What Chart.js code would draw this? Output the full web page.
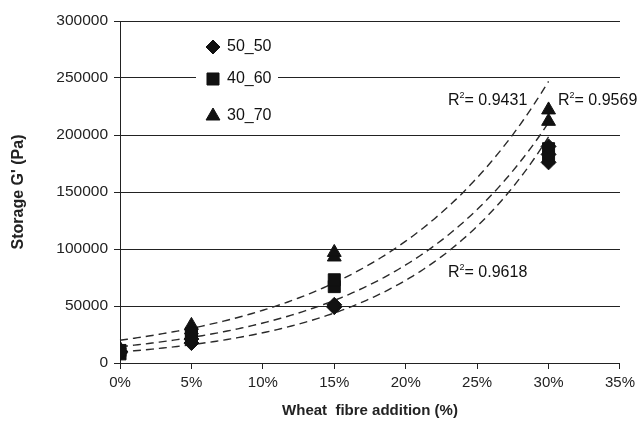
<!DOCTYPE html>
<html>
<head>
<meta charset="utf-8">
<script src="https://cdn.jsdelivr.net/npm/chart.js@4.4.1/dist/chart.umd.min.js"></script>
<style>
  html, body { margin: 0; padding: 0; background: #fff; }
  #wrap { width: 640px; height: 425px; }
</style>
</head>
<body>
<div id="wrap"><canvas id="chart"></canvas></div>
<script>
const fibre5050 = [0, 0, 5, 5, 15, 15, 30, 30, 30];
const g5050 = [9000, 10000, 17500, 21000, 49000, 51000, 176000, 183000, 190000];
const fibre4060 = [0, 0, 5, 5, 15, 15, 30, 30];
const g4060 = [8000, 11000, 23000, 26000, 67000, 73000, 180000, 188000];
const fibre3070 = [0, 5, 5, 15, 15, 30, 30];
const g3070 = [12500, 29000, 33000, 93000, 97000, 212000, 222000];

// exponential trendlines y = a * e^(b x), as printed by the spreadsheet
const trendNames = ["50_50", "40_60", "30_70"];
const trendA = [9700, 14300, 20000];
const trendB = [0.1006, 0.0897, 0.0838];
const trendR2 = ["0.9618", "0.9569", "0.9431"];

const xTicks = [0, 5, 10, 15, 20, 25, 30, 35];
const yTicks = [0, 50000, 100000, 150000, 200000, 250000, 300000];

const toPoints = (xs, ys) => xs.map((x, i) => ({ x: x, y: ys[i] }));

const FONT = "'Liberation Sans', Arial, sans-serif";
const INK = "#111";

const trendPlugin = {
  id: "trend",
  beforeDatasetsDraw(chart) {
    const { ctx, scales: { x, y } } = chart;
    ctx.save();
    ctx.strokeStyle = "#2a2a2a";
    ctx.lineWidth = 1.4;
    ctx.setLineDash([8, 5]);
    trendA.forEach((a, i) => {
      ctx.beginPath();
      for (let v = 0; v <= 30.001; v += 0.25) {
        const px = x.getPixelForValue(v);
        const py = y.getPixelForValue(a * Math.exp(trendB[i] * v));
        if (v === 0) ctx.moveTo(px, py);
        else ctx.lineTo(px, py);
      }
      ctx.stroke();
    });
    ctx.restore();
  },
  afterDatasetsDraw(chart) {
    const { ctx, scales: { x, y } } = chart;
    // R² labels, placed in data units
    const spots = [[22.96, 78900], [30.66, 229800], [22.96, 229800]];
    ctx.save();
    ctx.fillStyle = INK;
    ctx.textBaseline = "middle";
    ctx.textAlign = "left";
    trendR2.forEach((r2, i) => {
      let px = x.getPixelForValue(spots[i][0]);
      const py = y.getPixelForValue(spots[i][1]);
      ctx.font = "16px " + FONT;
      ctx.fillText("R", px, py);
      px += ctx.measureText("R").width;
      ctx.font = "9px " + FONT;
      ctx.fillText("2", px, py - 6);
      px += ctx.measureText("2").width;
      ctx.font = "16px " + FONT;
      ctx.fillText("= " + r2, px, py);
    });

    // legend box inside the plot
    const lx = 196, ly = 33;
    ctx.fillStyle = "#fff";
    ctx.fillRect(lx, ly, 82, 98);
    const styles = [["rectRot", 7], ["rect", 8.5], ["triangle", 8]];
    const rowsY = [47, 79, 116];
    trendNames.forEach((name, i) => {
      ctx.fillStyle = INK;
      ctx.strokeStyle = INK;
      Chart.helpers.drawPoint(ctx, { pointStyle: styles[i][0], radius: styles[i][1], rotation: 0, borderWidth: 1 }, 213, rowsY[i]);
      ctx.fillStyle = INK;
      ctx.font = "16px " + FONT;
      ctx.textBaseline = "middle";
      ctx.fillText(name, 227, rowsY[i]);
    });
    ctx.restore();
  }
};

new Chart(document.getElementById("chart"), {
  type: "scatter",
  data: {
    datasets: [
      { label: "50_50", data: toPoints(fibre5050, g5050), pointStyle: "rectRot", pointRadius: 7.5,
        backgroundColor: INK, borderColor: INK, borderWidth: 1 },
      { label: "40_60", data: toPoints(fibre4060, g4060), pointStyle: "rect", pointRadius: 8.5,
        backgroundColor: INK, borderColor: INK, borderWidth: 1 },
      { label: "30_70", data: toPoints(fibre3070, g3070), pointStyle: "triangle", pointRadius: 8,
        backgroundColor: INK, borderColor: INK, borderWidth: 1 }
    ]
  },
  options: {
    responsive: true,
    maintainAspectRatio: false,
    animation: false,
    layout: { padding: { top: 21, right: 20, left: 0, bottom: 0 } },
    plugins: {
      legend: { display: false },
      tooltip: { enabled: false }
    },
    scales: {
      x: {
        type: "linear",
        min: 0,
        max: 35,
        afterBuildTicks: (scale) => { scale.ticks = xTicks.map((v) => ({ value: v })); },
        afterFit: (scale) => { scale.height = 62; },
        ticks: {
          color: "#222",
          font: { family: FONT, size: 15 },
          padding: 5,
          callback: (v) => v + "%"
        },
        grid: { drawOnChartArea: false, drawTicks: true, tickLength: 6, color: "#222" },
        border: { color: "#222", width: 1 },
        title: {
          display: true,
          text: "Wheat  fibre addition (%)",
          color: "#222",
          font: { family: FONT, size: 15, weight: "bold" },
          padding: { top: 4, bottom: 5 }
        }
      },
      y: {
        type: "linear",
        min: 0,
        max: 300000,
        afterBuildTicks: (scale) => { scale.ticks = yTicks.map((v) => ({ value: v })); },
        afterFit: (scale) => { scale.width = 120; },
        ticks: {
          color: "#222",
          font: { family: FONT, size: 15.5 },
          padding: 6,
          callback: (v) => String(v)
        },
        grid: { color: "#222", lineWidth: 1, tickLength: 6 },
        border: { color: "#222", width: 1 },
        title: {
          display: true,
          text: "Storage G' (Pa)",
          color: "#222",
          font: { family: FONT, size: 16, weight: "bold" },
          padding: { top: 9, bottom: 4 }
        }
      }
    }
  },
  plugins: [trendPlugin]
});
</script>
</body>
</html>
